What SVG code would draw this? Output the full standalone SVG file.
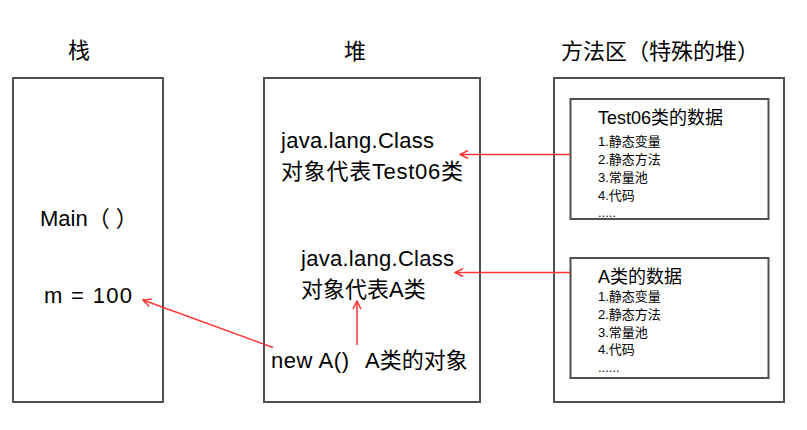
<svg xmlns="http://www.w3.org/2000/svg" width="807" height="430" viewBox="0 0 807 430">
  <style>
    .box { fill: #ffffff; stroke: #4f4f4f; stroke-width: 2; }
    .t { font-family: "Liberation Sans", "Noto Sans CJK SC", sans-serif; fill: #000000; }
    .h { font-size: 22px; }
    .big { font-size: 22px; }
    .title { font-size: 18px; }
    .item { font-size: 13px; }
    .arrow { stroke: #ff3535; stroke-width: 1.5; fill: none; marker-end: url(#open); }
  </style>
  <defs>
    <marker id="open" viewBox="0 0 10 10" refX="9" refY="5" markerWidth="10" markerHeight="10" markerUnits="userSpaceOnUse" orient="auto">
      <path d="M1,1 L9,5 L1,9" fill="none" stroke="#ff3535" stroke-width="1.5"/>
    </marker>
  </defs>
  <rect width="807" height="430" fill="#ffffff"/>

  <g id="headers">
    <text class="t h" x="79" y="58" text-anchor="middle">栈</text>
    <text class="t h" x="355" y="59" text-anchor="middle">堆</text>
    <text class="t h" x="561" y="59">方法区（特殊的堆）</text>
  </g>

  <g id="stack">
    <rect class="box" x="13" y="78" width="150" height="324"/>
    <text class="t big" x="40" y="226">Main（ ）</text>
    <text class="t big" x="44" y="303" textLength="88">m = 100</text>
  </g>

  <g id="heap">
    <rect class="box" x="264" y="78" width="216" height="324"/>
    <text class="t big" x="281" y="148" textLength="153">java.lang.Class</text>
    <text class="t big" x="281" y="179" textLength="182">对象代表Test06类</text>
    <text class="t big" x="301" y="266" textLength="153">java.lang.Class</text>
    <text class="t big" x="301" y="297">对象代表A类</text>
    <text class="t big" x="271" y="368" textLength="78">new A()</text>
    <text class="t big" x="365" y="368">A类的对象</text>
  </g>

  <g id="method-area">
    <rect class="box" x="554" y="78" width="230" height="324"/>
  </g>

  <g id="test06-data">
    <rect class="box" x="570.5" y="99" width="198" height="120"/>
    <text class="t title" x="598" y="124">Test06类的数据</text>
    <text class="t item" x="598" y="146">1.静态变量</text>
    <text class="t item" x="598" y="164">2.静态方法</text>
    <text class="t item" x="598" y="182">3.常量池</text>
    <text class="t item" x="598" y="200">4.代码</text>
    <text class="t item" x="598" y="217">.....</text>
  </g>

  <g id="a-data">
    <rect class="box" x="570.5" y="258" width="198" height="120"/>
    <text class="t title" x="598" y="283">A类的数据</text>
    <text class="t item" x="598" y="301">1.静态变量</text>
    <text class="t item" x="598" y="319">2.静态方法</text>
    <text class="t item" x="598" y="337">3.常量池</text>
    <text class="t item" x="598" y="354">4.代码</text>
    <text class="t item" x="598" y="372">......</text>
  </g>

  <g id="connectors">
    <path class="arrow" d="M570,154.5 L460,154.5"/>
    <path class="arrow" d="M570,272.5 L455,272.5"/>
    <path class="arrow" d="M357,345 L357,301"/>
    <path class="arrow" d="M273,347.5 L143,300"/>
  </g>
</svg>
